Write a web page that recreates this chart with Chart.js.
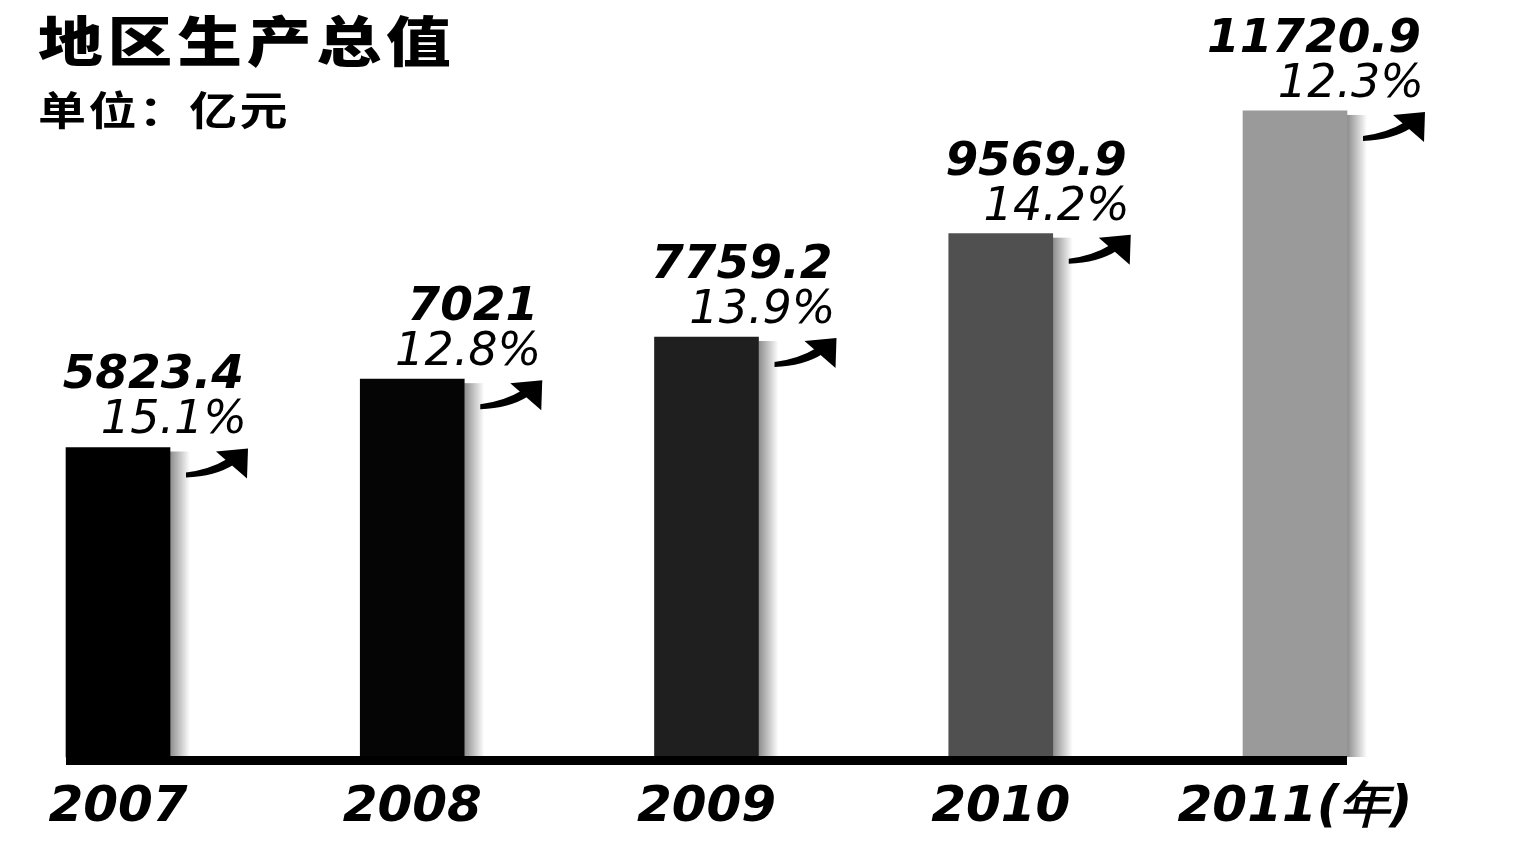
<!DOCTYPE html>
<html>
<head>
<meta charset="utf-8">
<script src="https://cdn.jsdelivr.net/npm/chart.js@4.4.1/dist/chart.umd.min.js"></script>
<style>
  html, body { margin: 0; padding: 0; background: #fff; }
  #wrap { position: relative; width: 1540px; height: 856px; overflow: hidden; }
  #c { position: absolute; left: 0; top: 0; }
  .t { position: absolute; font-family: "Noto Sans CJK SC", sans-serif; color: #000; transform-origin: 0 0; white-space: nowrap; }
  #title { left: 38px; top: 12px; font-size: 54px; font-weight: 900; letter-spacing: 4px; transform: scaleX(1.2); line-height: 1; }
  #unit { left: 38px; top: 88px; font-size: 40px; font-weight: 700; letter-spacing: 2px; transform: scaleX(1.2); line-height: 1; }
</style>
</head>
<body>
<div id="wrap">
  <canvas id="c" width="1540" height="859"></canvas>
  <div class="t" id="title">地区生产总值</div>
  <div class="t" id="unit">单位：亿元</div>
</div>
<script>
const years = ['2007', '2008', '2009', '2010', '2011(年)'];
const gdpValues = [5823.4, 7021, 7759.2, 9569.9, 11720.9];
const valueLabels = ['5823.4', '7021', '7759.2', '9569.9', '11720.9'];
const growthLabels = ['15.1%', '12.8%', '13.9%', '14.2%', '12.3%'];
const barColors = ['#000000', '#050505', '#1f1f1f', '#505050', '#9a9a9a'];
const yMin = 400;
const yMax = 12000;

const decorPlugin = {
  id: 'decor',
  beforeDatasetsDraw(chart) {
    const ctx = chart.ctx;
    const meta = chart.getDatasetMeta(0);
    ctx.save();
    meta.data.forEach(bar => {
      const R = bar.x + bar.width / 2;
      const g = ctx.createLinearGradient(R, 0, R + 20, 0);
      g.addColorStop(0, 'rgba(0,0,0,0.45)');
      g.addColorStop(1, 'rgba(0,0,0,0)');
      ctx.fillStyle = g;
      ctx.fillRect(R, bar.y + 4, 20, bar.base - bar.y - 4);
    });
    ctx.restore();
  },
  afterDatasetsDraw(chart) {
    const ctx = chart.ctx;
    const meta = chart.getDatasetMeta(0);
    ctx.save();
    const first = meta.data[0], last = meta.data[meta.data.length - 1];
    const x0 = first.x - first.width / 2, x1 = last.x + last.width / 2;
    ctx.fillStyle = '#000';
    ctx.fillRect(x0, first.base - 1, x1 - x0, 9);
    meta.data.forEach((bar, i) => {
      const R = bar.x + bar.width / 2;
      const T = bar.y;
      ctx.fillStyle = '#000';
      ctx.textAlign = 'right';
      ctx.textBaseline = 'alphabetic';
      ctx.font = 'italic bold 47px "DejaVu Sans"';
      ctx.fillText(valueLabels[i], R + 74, T - 59);
      ctx.font = 'italic 46px "DejaVu Sans"';
      ctx.fillText(growthLabels[i], R + 77, T - 14);
      ctx.beginPath();
      ctx.moveTo(R + 16, T + 30);
      ctx.quadraticCurveTo(R + 45, T + 29, R + 64, T + 17);
      ctx.lineTo(R + 58, T + 11);
      ctx.quadraticCurveTo(R + 40, T + 22, R + 16, T + 25);
      ctx.closePath();
      ctx.fill();
      ctx.beginPath();
      ctx.moveTo(R + 46, T + 4);
      ctx.lineTo(R + 78, T + 1);
      ctx.lineTo(R + 77, T + 31);
      ctx.closePath();
      ctx.fill();
    });
    ctx.restore();
  }
};

new Chart(document.getElementById('c'), {
  type: 'bar',
  data: {
    labels: years,
    datasets: [{
      data: gdpValues,
      backgroundColor: barColors,
      barThickness: 104,
      borderWidth: 0,
      base: yMin,
      clip: false
    }]
  },
  options: {
    responsive: false,
    animation: false,
    devicePixelRatio: 1,
    layout: { padding: { left: 118, right: 245, top: 95, bottom: 8 } },
    plugins: { legend: { display: false }, tooltip: { enabled: false }, title: { display: false } },
    scales: {
      x: {
        offset: false,
        grid: { display: false },
        border: { display: false },
        ticks: {
          color: '#000',
          padding: 13,
          maxRotation: 0,
          autoSkip: false,
          font: { family: '"DejaVu Sans"', size: 50, weight: 'bold', style: 'italic' }
        }
      },
      y: {
        display: false,
        min: yMin,
        max: yMax
      }
    }
  },
  plugins: [decorPlugin]
});
</script>
</body>
</html>
